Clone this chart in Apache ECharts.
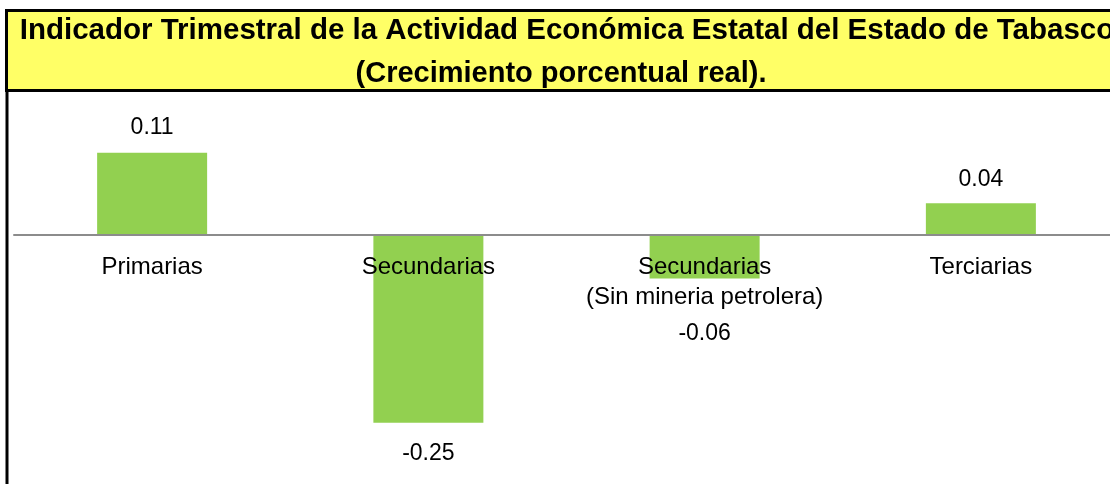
<!DOCTYPE html>
<html>
<head>
<meta charset="utf-8">
<script src="https://cdn.jsdelivr.net/npm/echarts@6/dist/echarts.min.js"></script>
<style>
html, body { margin: 0; padding: 0; background: #fff; }
#main { width: 1110px; height: 484px; }
</style>
</head>
<body>
<div id="main"></div>
<script>
var titleLines = ['Indicador Trimestral de la Actividad Económica Estatal del Estado de Tabasco', '(Crecimiento porcentual real).'];
var categories = ['Primarias', 'Secundarias', 'Secundarias\n(Sin mineria petrolera)', 'Terciarias'];
var values = [0.109, -0.250, -0.058, 0.042];
// distancia de la etiqueta de valor a la barra
var labelGap = [14, 19, 44, 12];

var font = 'Liberation Sans, Arial, sans-serif';

var myChart = echarts.init(document.getElementById('main'));

var data = [];
var catData = [];
for (var i = 0; i < values.length; i++) {
	data.push({
		value: values[i],
		label: {
			position: values[i] >= 0 ? 'top' : 'bottom',
			distance: labelGap[i]
		}
	});
	catData.push([categories[i], 0]);   // etiquetas de categoria junto al eje (cero)
}

var option = {
	animation: false,
	backgroundColor: '#ffffff',
	// recuadro amarillo del titulo y borde izquierdo
	graphic: [
		{
			type: 'rect',
			shape: { x: 6.5, y: 10.5, width: 1200, height: 80 },
			style: { fill: '#FFFF66', stroke: '#000', lineWidth: 3 },
			z: 10
		},
		{
			type: 'line',
			shape: { x1: 7, y1: 90, x2: 7, y2: 490 },
			style: { stroke: '#000', lineWidth: 3 },
			z: 10
		},
		{
			type: 'text',
			x: 567, y: 31,
			style: {
				text: titleLines[0], fill: '#000', font: 'bold 29.5px ' + font,
				align: 'center', verticalAlign: 'middle'
			},
			z: 11
		},
		{
			type: 'text',
			x: 561, y: 74,
			style: {
				text: titleLines[1], fill: '#000', font: 'bold 29px ' + font,
				align: 'center', verticalAlign: 'middle'
			},
			z: 11
		}
	],
	grid: {
		left: 14,
		top: 122,
		width: 1105,
		height: 338.4,
		outerBoundsMode: 'none',
		containLabel: false
	},
	xAxis: {
		type: 'category',
		data: categories,
		axisLine: { onZero: true, lineStyle: { color: '#8c8c8c', width: 2 } },
		axisTick: { show: false },
		axisLabel: { show: false },
		z: 5
	},
	yAxis: {
		type: 'value',
		min: -0.3,
		max: 0.15,
		show: false,
		splitLine: { show: false }
	},
	series: [{
		type: 'bar',
		data: data,
		barWidth: 110,
		itemStyle: { color: '#92D050' },
		label: {
			show: true,
			color: '#000',
			fontFamily: font,
			fontSize: 23,
			formatter: function (p) { return p.value.toFixed(2); }
		},
		z: 2
	}, {
		type: 'scatter',
		data: catData,
		symbolSize: 0,
		silent: true,
		itemStyle: { opacity: 1 },
		label: {
			show: true,
			position: 'bottom',
			distance: 18,
			color: '#000',
			opacity: 1,
			fontFamily: font,
			fontSize: 24,
			lineHeight: 30,
			formatter: function (p) { return p.value[0]; }
		},
		z: 6
	}]
};

myChart.setOption(option);
</script>
</body>
</html>
